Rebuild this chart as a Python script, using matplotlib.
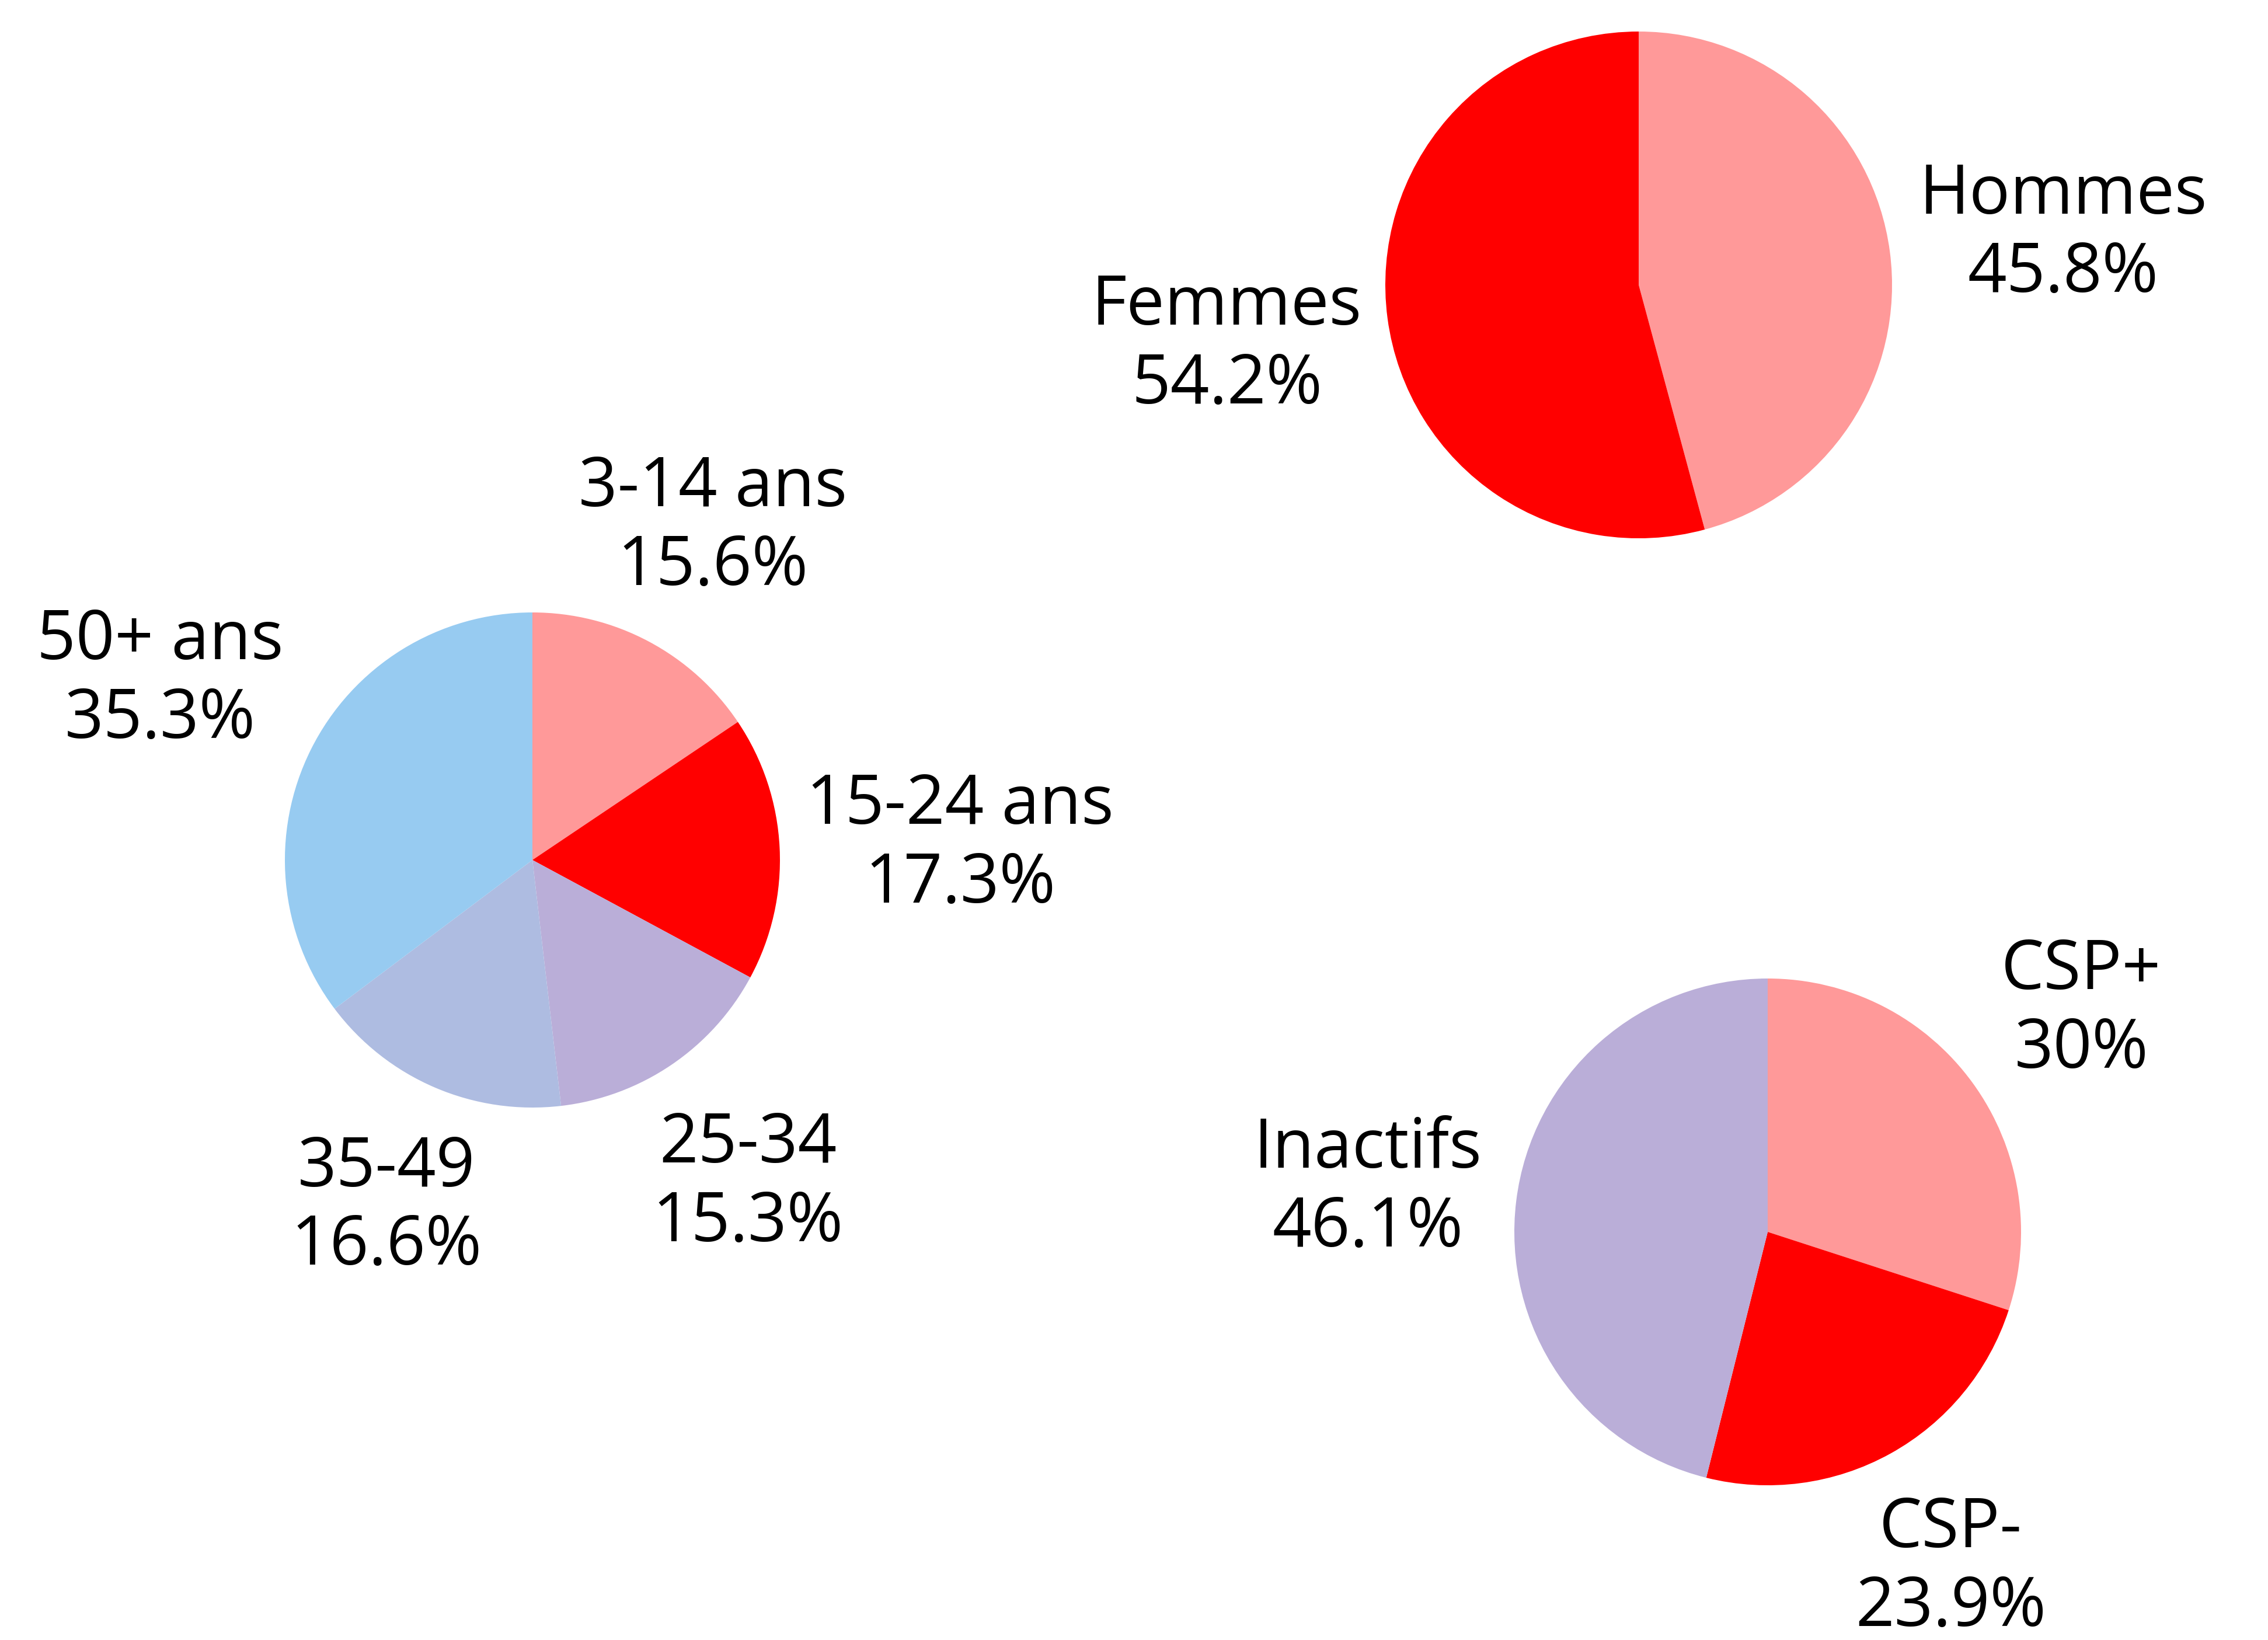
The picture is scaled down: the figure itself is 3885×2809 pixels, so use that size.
import math

import matplotlib
matplotlib.use("Agg")
import matplotlib.pyplot as plt

# audience breakdowns, in percent
sexe_labels = ["Hommes", "Femmes"]
sexe_values = [45.8, 54.2]

age_labels = ["3-14 ans", "15-24 ans", "25-34", "35-49", "50+ ans"]
age_values = [15.6, 17.3, 15.3, 16.6, 35.3]

csp_labels = ["CSP+", "CSP-", "Inactifs"]
csp_values = [30, 23.9, 46.1]

PINK = "#ff9999"
RED = "#ff0000"
LAVENDER = "#baaed8"
STEEL = "#aebce1"
SKY = "#97cbf1"

plt.rcParams["font.family"] = ["Open Sans", "DejaVu Sans"]

W, H = 3885, 2809
fig = plt.figure(figsize=(W / 100, H / 100), dpi=100)
ax = fig.add_axes([0, 0, 1, 1])


def fmt(v):
    return f"{v:g}%"


def draw_pie(values, labels, colors, center, radius, label_dist):
    wedges, _ = ax.pie(values, colors=colors, startangle=90, counterclock=False,
                       center=center, radius=radius,
                       wedgeprops=dict(linewidth=0))
    for w, lab, v, d in zip(wedges, labels, values, label_dist):
        mid = math.radians((w.theta1 + w.theta2) / 2)
        x = center[0] + radius * d * math.cos(mid)
        y = center[1] + radius * d * math.sin(mid) - 11
        ax.text(x, y, f"{lab}\n{fmt(v)}", ha="center", va="center",
                fontsize=84, linespacing=1.2, color="black")


draw_pie(sexe_values, sexe_labels, [PINK, RED], (2807, H - 488), 434,
         [1.69, 1.64])
draw_pie(age_values, age_labels, [PINK, RED, LAVENDER, STEEL, SKY],
         (912, H - 1473), 424, [1.55, 1.73, 1.55, 1.50, 1.68])
draw_pie(csp_values, csp_labels, [PINK, RED, LAVENDER], (3028, H - 2110), 434,
         [1.53, 1.49, 1.59])

ax.set_xlim(0, W)
ax.set_ylim(0, H)
ax.set_aspect("equal")
ax.axis("off")

fig.savefig("out.png", dpi=100, facecolor="white")
